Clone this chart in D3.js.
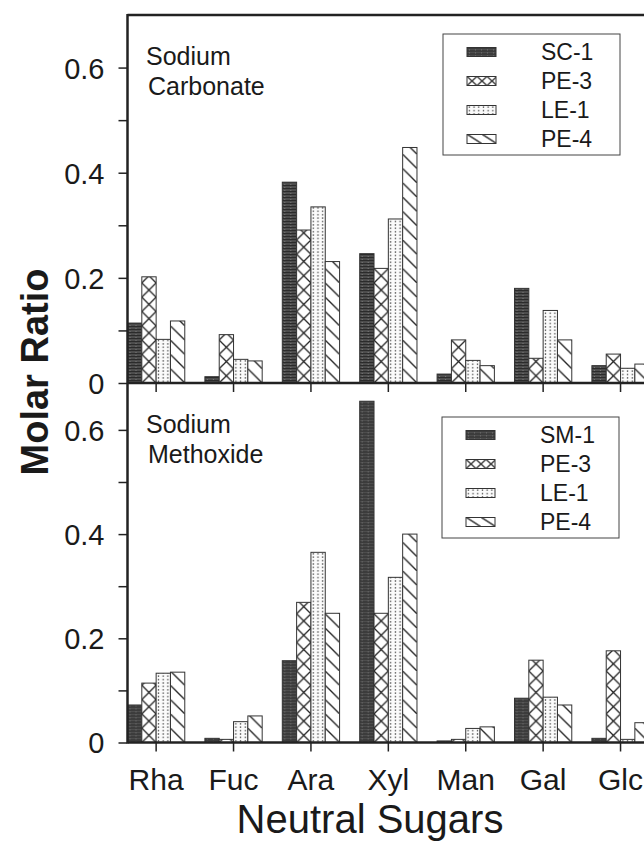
<!DOCTYPE html>
<meta charset="utf-8">
<script src="https://cdn.jsdelivr.net/npm/d3@7"></script>
<style>
body { margin: 0; background: #fff; }
text { font-family: "Liberation Sans", Arial, Helvetica, sans-serif; fill: #1a1a1a; }
</style>
<body>
<script>

// categories and tick labels
var sugars = ["Rha", "Fuc", "Ara", "Xyl", "Man", "Gal", "Glc"];
var yTicks = [0, 0.2, 0.4, 0.6];
var yMinor = [0.1, 0.3, 0.5];

// sodium carbonate extracts
var carbonateNames = ["SC-1", "PE-3", "LE-1", "PE-4"];
var carbonateSC1 = [0.114, 0.012, 0.382, 0.246, 0.017, 0.180, 0.033];
var carbonatePE3 = [0.202, 0.092, 0.291, 0.218, 0.082, 0.047, 0.055];
var carbonateLE1 = [0.083, 0.045, 0.335, 0.312, 0.043, 0.138, 0.028];
var carbonatePE4 = [0.118, 0.042, 0.231, 0.448, 0.033, 0.082, 0.036];

// sodium methoxide extracts
var methoxideNames = ["SM-1", "PE-3", "LE-1", "PE-4"];
var methoxideSM1 = [0.072, 0.008, 0.157, 0.655, 0.003, 0.085, 0.008];
var methoxidePE3 = [0.114, 0.006, 0.269, 0.248, 0.006, 0.158, 0.176];
var methoxideLE1 = [0.133, 0.040, 0.365, 0.317, 0.027, 0.087, 0.006];
var methoxidePE4 = [0.135, 0.051, 0.248, 0.400, 0.030, 0.072, 0.038];

var W = 644, H = 844;
var axisX = 127.5;
var fills = ["dark", "cross", "dots", "diag"];

var svg = d3.select("body").append("svg")
    .attr("width", W)
    .attr("height", H);

var defs = svg.append("defs");

// hatch patterns, w/h = tile size
function makePatterns(suffix, cw, ch, dw, dh) {
    var p = defs.append("pattern").attr("id", "dark" + suffix)
        .attr("patternUnits", "userSpaceOnUse").attr("width", 6).attr("height", 3);
    p.append("rect").attr("width", 6).attr("height", 3).attr("fill", "#4d4d4d");
    p.append("rect").attr("width", 6).attr("height", 1).attr("fill", "#2b2b2b");
    p.append("rect").attr("x", 2).attr("y", 2).attr("width", 1).attr("height", 1).attr("fill", "#7a7a7a");

    p = defs.append("pattern").attr("id", "cross" + suffix)
        .attr("patternUnits", "userSpaceOnUse").attr("width", cw).attr("height", ch);
    p.append("rect").attr("width", cw).attr("height", ch).attr("fill", "#fff");
    p.append("path").attr("d", "M0,0L" + cw + "," + ch + "M" + cw + ",0L0," + ch)
        .attr("stroke", "#222").attr("stroke-width", 1.3).attr("fill", "none");

    p = defs.append("pattern").attr("id", "dots" + suffix)
        .attr("patternUnits", "userSpaceOnUse").attr("width", 4.7).attr("height", 3.4);
    p.append("rect").attr("width", 4.7).attr("height", 3.4).attr("fill", "#fbfbfb");
    p.append("circle").attr("cx", 2.35).attr("cy", 1.7).attr("r", 0.75).attr("fill", "#555");

    p = defs.append("pattern").attr("id", "diag" + suffix)
        .attr("patternUnits", "userSpaceOnUse").attr("width", dw).attr("height", dh);
    p.append("rect").attr("width", dw).attr("height", dh).attr("fill", "#fff");
    p.append("path").attr("d", "M-1,-1L" + (dw + 1) + "," + (dh + 1))
        .attr("stroke", "#222").attr("stroke-width", 1.3).attr("fill", "none");
}
makePatterns("", 14.3, 14.3, 14.3, 14.3);
makePatterns("-leg", 10, 9, 15, 9);

var x0 = d3.scaleBand()
    .domain(sugars)
    .range([axisX, axisX + 77.4 * (sugars.length - 0.26)])
    .paddingInner(0.26)
    .paddingOuter(0);

var x1 = d3.scaleBand()
    .domain(d3.range(4))
    .range([0, x0.bandwidth()]);

var panels = [
    {top: 15, zero: 383, max: 0.70, names: carbonateNames,
     series: [carbonateSC1, carbonatePE3, carbonateLE1, carbonatePE4],
     title: ["Sodium", "Carbonate"], legend: {x: 443, y: 34}},
    {top: 383, zero: 742.5, max: 0.69, names: methoxideNames,
     series: [methoxideSM1, methoxidePE3, methoxideLE1, methoxidePE4],
     title: ["Sodium", "Methoxide"], legend: {x: 442, y: 417}}
];

panels.forEach(function(pn) {
    var y = d3.scaleLinear().domain([0, pn.max]).range([pn.zero, pn.top]);
    var g = svg.append("g");

    // bars: each group translated to its own baseline so hatch tiles line up
    pn.series.forEach(function(vals, si) {
        g.selectAll(null)
            .data(sugars.map(function(s, i) { return {s: s, v: vals[i]}; }))
            .enter().append("g")
            .attr("transform", function(d) {
                return "translate(" + (x0(d.s) + x1(si)) + "," + pn.zero + ")";
            })
            .append("rect")
            .attr("x", 0)
            .attr("y", function(d) { return y(d.v) - pn.zero; })
            .attr("width", x1.bandwidth())
            .attr("height", function(d) { return pn.zero - y(d.v); })
            .attr("fill", "url(#" + fills[si] + ")")
            .attr("stroke", "#333")
            .attr("stroke-width", 1);
    });

    // y axis ticks
    var ya = d3.axisLeft(y)
        .tickValues(yTicks.concat(yMinor))
        .tickSize(9)
        .tickPadding(14)
        .tickFormat(function(d) { return yTicks.indexOf(d) >= 0 ? d3.format("")(d) : ""; });
    var yg = g.append("g").attr("transform", "translate(" + axisX + ",0)").call(ya);
    yg.select(".domain").remove();
    yg.selectAll(".tick line").attr("stroke", "#222").attr("stroke-width", 1.5);
    yg.selectAll(".tick text").style("font-size", "29px").attr("dy", "0.36em");

    // x ticks
    var xa = d3.axisBottom(x0).tickSize(9).tickFormat("");
    var xg = g.append("g").attr("transform", "translate(0," + pn.zero + ")").call(xa);
    xg.select(".domain").remove();
    xg.selectAll(".tick line").attr("stroke", "#222").attr("stroke-width", 1.5);

    // baseline
    g.append("line")
        .attr("x1", axisX).attr("x2", W)
        .attr("y1", pn.zero).attr("y2", pn.zero)
        .attr("stroke", "#222").attr("stroke-width", 2.5);

    // panel title
    g.append("text")
        .attr("x", 146).attr("y", pn.top + 50)
        .style("font-size", "25px")
        .text(pn.title[0]);
    g.append("text")
        .attr("x", 148).attr("y", pn.top + 80)
        .style("font-size", "25px")
        .text(pn.title[1]);

    // legend
    var lg = g.append("g").attr("transform", "translate(" + pn.legend.x + "," + pn.legend.y + ")");
    lg.append("rect")
        .attr("width", 177).attr("height", 121)
        .attr("fill", "#fff").attr("stroke", "#444").attr("stroke-width", 1);
    pn.names.forEach(function(name, i) {
        var cy = 18 + i * 29;
        lg.append("g")
            .attr("transform", "translate(24," + (cy - 4.5) + ")")
            .append("rect")
            .attr("width", 29).attr("height", 9)
            .attr("fill", "url(#" + fills[i] + "-leg)")
            .attr("stroke", "#333").attr("stroke-width", 1);
        lg.append("text")
            .attr("x", 98).attr("y", cy)
            .attr("dy", "0.36em")
            .style("font-size", "23px")
            .text(name);
    });
});

// frame: left axis and top line
svg.append("line")
    .attr("x1", axisX).attr("x2", axisX)
    .attr("y1", 14).attr("y2", 743.5)
    .attr("stroke", "#222").attr("stroke-width", 2.5);
svg.append("line")
    .attr("x1", axisX).attr("x2", W)
    .attr("y1", 15).attr("y2", 15)
    .attr("stroke", "#222").attr("stroke-width", 2.5);

// category labels
svg.append("g").selectAll("text")
    .data(sugars)
    .enter().append("text")
    .attr("x", function(d) { return x0(d) + x0.bandwidth() / 2; })
    .attr("y", 790)
    .attr("text-anchor", "middle")
    .style("font-size", "30px")
    .text(function(d) { return d; });

// axis titles
svg.append("text")
    .attr("x", 370).attr("y", 833)
    .attr("text-anchor", "middle")
    .style("font-size", "40px")
    .text("Neutral Sugars");

svg.append("text")
    .attr("transform", "translate(48,372) rotate(-90)")
    .attr("text-anchor", "middle")
    .style("font-size", "38px")
    .style("font-weight", "bold")
    .text("Molar Ratio");

</script>
</body>
